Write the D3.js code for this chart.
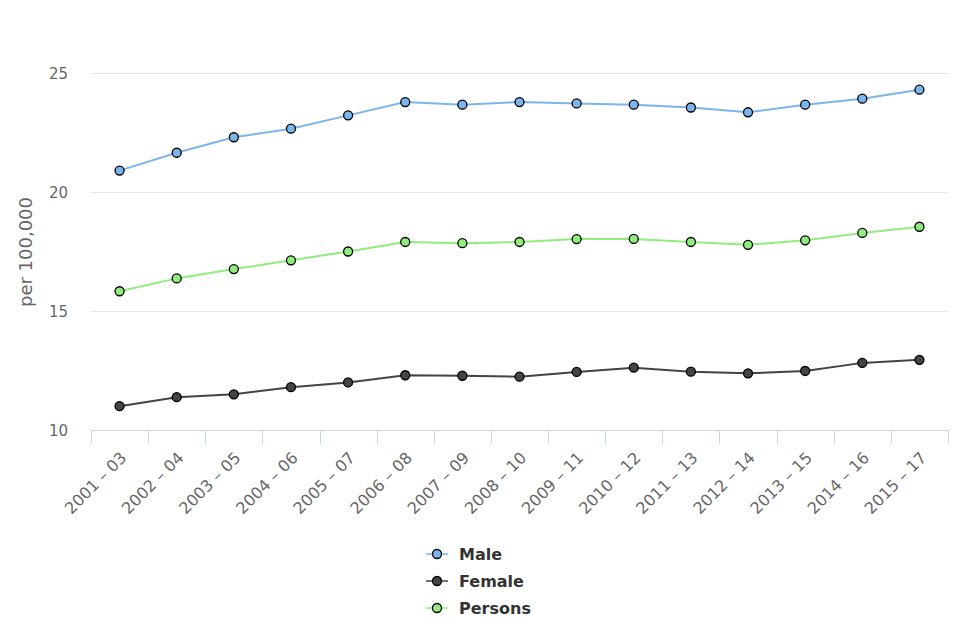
<!DOCTYPE html>
<html><head><meta charset="utf-8">
<script src="https://cdn.jsdelivr.net/npm/d3@7/dist/d3.min.js"></script>
<style>body{margin:0;background:#fff;font-family:"DejaVu Sans",sans-serif;}</style>
</head><body><svg id="c" width="960" height="640"></svg>
<script>
const categories = ["2001 – 03","2002 – 04","2003 – 05","2004 – 06","2005 – 07","2006 – 08","2007 – 09","2008 – 10","2009 – 11","2010 – 12","2011 – 13","2012 – 14","2013 – 15","2014 – 16","2015 – 17"];
const male    = [20.9,21.65,22.3,22.66,23.22,23.78,23.67,23.78,23.72,23.67,23.55,23.35,23.67,23.92,24.3];
const female  = [11.0,11.38,11.5,11.8,12.0,12.3,12.28,12.24,12.44,12.62,12.45,12.38,12.48,12.82,12.95];
const persons = [15.83,16.37,16.76,17.13,17.5,17.9,17.85,17.9,18.02,18.03,17.9,17.78,17.97,18.28,18.54];
const yTicks = [10,15,20,25];
const seriesNames = ["Male","Female","Persons"];
const seriesColors = ["#7cb5ec","#434348","#90ed7d"];
const seriesData = [male, female, persons];

const svg = d3.select("#c");
const L = 91, R = 948, T = 34, B = 430;
const x = d3.scaleBand().domain(categories).range([L, R]);
const y = d3.scaleLinear().domain([10, 26.6]).range([B, B - 16.6*23.8]);

// gridlines
svg.append("g").selectAll("line").data(yTicks.filter(d=>d>10)).join("line")
  .attr("x1", L).attr("x2", R).attr("y1", d=>y(d)+0.5).attr("y2", d=>y(d)+0.5)
  .attr("stroke", "#e6e6e6").attr("stroke-width", 1);

// y axis labels
const yAxis = d3.axisLeft(y).tickValues(yTicks).tickSize(0).tickPadding(0);
const yg = svg.append("g").attr("transform", `translate(68,0)`).call(yAxis);
yg.select(".domain").remove();
yg.selectAll("text").attr("font-family","DejaVu Sans, sans-serif").attr("font-size", 15).attr("fill", "#666").attr("dy","0.36em");

// y title
svg.append("text").attr("transform", "translate(32,252) rotate(-90)")
  .attr("text-anchor","middle").attr("font-size",18).attr("fill","#666").text("per 100,000");

// x axis
const xAxis = d3.axisBottom(x).tickSize(0);
const xg = svg.append("g").attr("transform", `translate(0,${B})`).call(xAxis);
xg.select(".domain").attr("stroke","#ccd6eb").attr("d", `M${L},0.5H${R}`);
xg.selectAll(".tick text").remove();
// ticks at band boundaries
const bounds = categories.map(c=>x(c)).concat([R]);
svg.append("g").selectAll("line").data(bounds).join("line")
  .attr("x1", d=>Math.round(d)+0.5).attr("x2", d=>Math.round(d)+0.5).attr("y1", B).attr("y2", B+14)
  .attr("stroke","#ccd6eb");
svg.append("g").selectAll("text").data(categories).join("text")
  .attr("transform", d=>`translate(${x(d)+x.bandwidth()/2},${B+21}) rotate(-45)`)
  .attr("text-anchor","end").attr("font-size",16).attr("fill","#666").attr("dy","0.7em")
  .text(d=>d);

// series
const line = d3.line().x((d,i)=>x(categories[i])+x.bandwidth()/2).y(d=>y(d));
seriesData.forEach((data, k) => {
  svg.append("path").datum(data).attr("d", line).attr("fill","none")
    .attr("stroke", seriesColors[k]).attr("stroke-width", 2);
});
seriesData.forEach((data, k) => {
  svg.append("g").selectAll("circle").data(data).join("circle")
    .attr("cx", (d,i)=>x(categories[i])+x.bandwidth()/2).attr("cy", d=>y(d)).attr("r", 4.5)
    .attr("fill", seriesColors[k]).attr("stroke","#000").attr("stroke-width",1.3);
});

// legend
const lg = svg.append("g");
seriesNames.forEach((n,k)=>{
  const yy = 554 + k*27;
  lg.append("line").attr("x1",426).attr("x2",448).attr("y1",yy).attr("y2",yy).attr("stroke",seriesColors[k]).attr("stroke-width",1.5);
  lg.append("circle").attr("cx",437).attr("cy",yy).attr("r",4.5).attr("fill",seriesColors[k]).attr("stroke","#000").attr("stroke-width",1.3);
  lg.append("text").attr("x",459).attr("y",yy).attr("dy","0.36em").attr("font-size",16).attr("font-weight","bold").attr("fill","#333").text(n);
});
</script></body></html>
